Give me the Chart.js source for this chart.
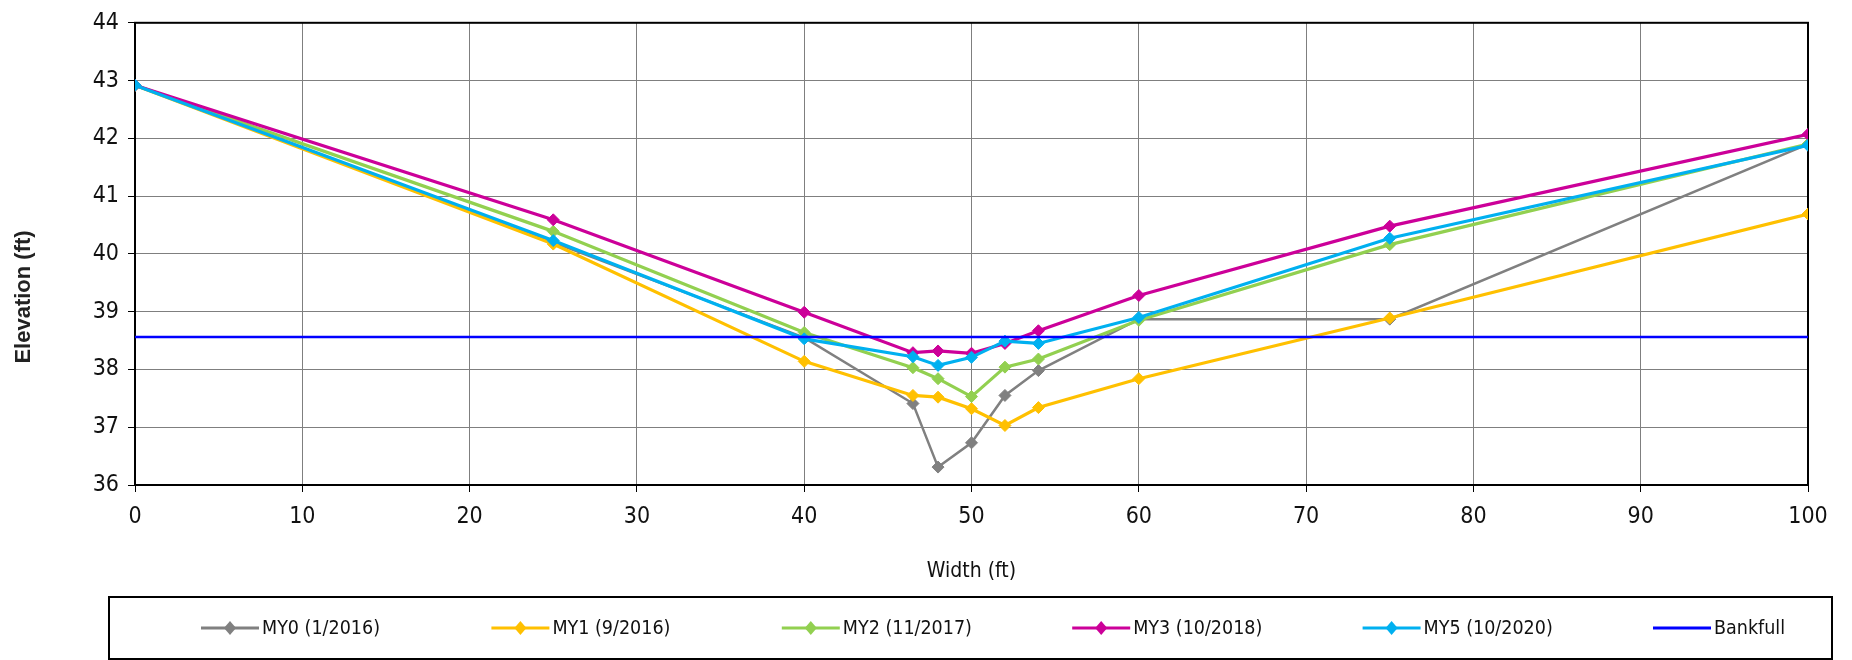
<!DOCTYPE html>
<html>
<head>
<meta charset="utf-8">
<script src="https://cdn.jsdelivr.net/npm/chart.js@4/dist/chart.umd.min.js"></script>
<style>
  html, body { margin: 0; padding: 0; background: #fff; }
  #wrap { width: 1852px; height: 660px; position: relative; }
</style>
</head>
<body>
<div id="wrap"><canvas id="c" width="1852" height="660"></canvas></div>
<script>
// ---- data ----
const stations = [0, 25, 40, 46.5, 48, 50, 52, 54, 60, 75, 100];
const my0 = [42.92, 40.20, 38.55, 37.41, 36.31, 36.73, 37.55, 37.98, 38.87, 38.87, 41.90];
const my1 = [42.92, 40.17, 38.14, 37.55, 37.52, 37.32, 37.03, 37.34, 37.84, 38.89, 40.69];
const my2 = [42.92, 40.39, 38.64, 38.03, 37.84, 37.53, 38.04, 38.18, 38.85, 40.16, 41.90];
const my3 = [42.92, 40.59, 38.99, 38.29, 38.32, 38.28, 38.45, 38.67, 39.28, 40.48, 42.07];
const my5 = [42.92, 40.23, 38.53, 38.22, 38.07, 38.21, 38.49, 38.45, 38.90, 40.27, 41.88];
const bankfullX = [0, 100];
const bankfullY = [38.56, 38.56];
const seriesNames = ['MY0 (1/2016)', 'MY1 (9/2016)', 'MY2 (11/2017)', 'MY3 (10/2018)', 'MY5 (10/2020)', 'Bankfull'];
const yTicks = [36, 37, 38, 39, 40, 41, 42, 43, 44];
const xTicks = [0, 10, 20, 30, 40, 50, 60, 70, 80, 90, 100];
const yTitle = 'Elevation (ft)';
const xTitle = 'Width (ft)';

const NARROW = "'Liberation Sans Narrow', 'DejaVu Sans Condensed', 'Roboto Condensed', Roboto, sans-serif";

function pts(xs, ys) { return xs.map((x, i) => ({ x: x, y: ys[i] })); }

const colors = ['#808080', '#FFC000', '#92D050', '#CC0099', '#00B0F0', '#0000FF'];
const values = [my0, my1, my2, my3, my5];

const datasets = values.map((v, i) => ({
  label: seriesNames[i],
  data: pts(stations, v),
  borderColor: colors[i],
  backgroundColor: colors[i],
  borderWidth: i === 0 ? 2.5 : 3.2,
  pointStyle: 'rectRot',
  pointRadius: 6,
  pointBorderWidth: 1,
  pointBorderColor: colors[i],
  pointBackgroundColor: colors[i],
  tension: 0,
  order: 5 - i
}));
datasets.push({
  label: seriesNames[5],
  data: pts(bankfullX, bankfullY),
  borderColor: colors[5],
  backgroundColor: colors[5],
  borderWidth: 2.5,
  pointRadius: 0,
  tension: 0,
  order: 0
});

const framePlugin = {
  id: 'frame',
  beforeDatasetsDraw(chart) {
    const { ctx, chartArea: a } = chart;
    ctx.save();
    ctx.strokeStyle = '#000';
    ctx.lineWidth = 2;
    ctx.strokeRect(a.left, a.top, a.right - a.left, a.bottom - a.top);
    ctx.restore();
  }
};

const yTitlePlugin = {
  id: 'yTitle',
  afterDraw(chart) {
    const ctx = chart.ctx;
    ctx.save();
    ctx.translate(24, 297);
    ctx.rotate(-Math.PI / 2);
    ctx.font = "bold 22px 'Liberation Sans', Arial, sans-serif";
    ctx.fillStyle = '#222';
    ctx.textAlign = 'center';
    ctx.textBaseline = 'middle';
    ctx.fillText(yTitle, 0, 0);
    ctx.restore();
  }
};

const legendPlugin = {
  id: 'boxLegend',
  afterDraw(chart) {
    const ctx = chart.ctx;
    ctx.save();
    ctx.strokeStyle = '#000';
    ctx.lineWidth = 2;
    ctx.strokeRect(109, 597, 1723, 62);
    const cy = 628;
    ctx.font = '19.5px ' + NARROW;
    ctx.textBaseline = 'middle';
    ctx.textAlign = 'left';
    chart.data.datasets.forEach((ds, i) => {
      const x0 = 201 + i * 290.4;
      const x1 = x0 + 58;
      ctx.strokeStyle = ds.borderColor;
      ctx.lineWidth = 3;
      ctx.beginPath();
      ctx.moveTo(x0, cy);
      ctx.lineTo(x1, cy);
      ctx.stroke();
      if (ds.pointRadius > 0) {
        const mx = (x0 + x1) / 2, r = 6;
        ctx.fillStyle = ds.borderColor;
        ctx.beginPath();
        ctx.moveTo(mx, cy - r - 1);
        ctx.lineTo(mx + r, cy);
        ctx.lineTo(mx, cy + r + 1);
        ctx.lineTo(mx - r, cy);
        ctx.closePath();
        ctx.fill();
      }
      ctx.fillStyle = '#111';
      ctx.fillText(ds.label, x1 + 3, cy + 1);
    });
    ctx.restore();
  }
};

new Chart(document.getElementById('c'), {
  type: 'line',
  data: { datasets: datasets },
  plugins: [framePlugin, yTitlePlugin, legendPlugin],
  options: {
    responsive: false,
    animation: false,
    layout: { padding: { left: 0, top: 21, right: 44, bottom: 72 } },
    plugins: {
      legend: { display: false },
      tooltip: { enabled: false }
    },
    scales: {
      x: {
        type: 'linear',
        min: 0, max: 100,
        afterBuildTicks(s) { s.ticks = xTicks.map(v => ({ value: v })); },
        afterFit(s) { s.height = 103; },
        ticks: { color: '#111', font: { family: NARROW, size: 23 }, padding: 11, maxRotation: 0 },
        grid: { color: '#7f7f7f', lineWidth: 1, tickLength: 7, tickColor: '#000' },
        border: { color: '#000', width: 2 },
        title: { display: true, text: xTitle, color: '#111', font: { family: NARROW, size: 21 } }
      },
      y: {
        type: 'linear',
        min: 36, max: 44,
        afterBuildTicks(s) { s.ticks = yTicks.map(v => ({ value: v })); },
        afterFit(s) { s.width = 135; },
        ticks: { color: '#111', font: { family: NARROW, size: 23 }, padding: 9 },
        grid: { color: '#7f7f7f', lineWidth: 1, tickLength: 7, tickColor: '#000' },
        border: { color: '#000', width: 2 },
        title: { display: false }
      }
    }
  }
});
</script>
</body>
</html>
